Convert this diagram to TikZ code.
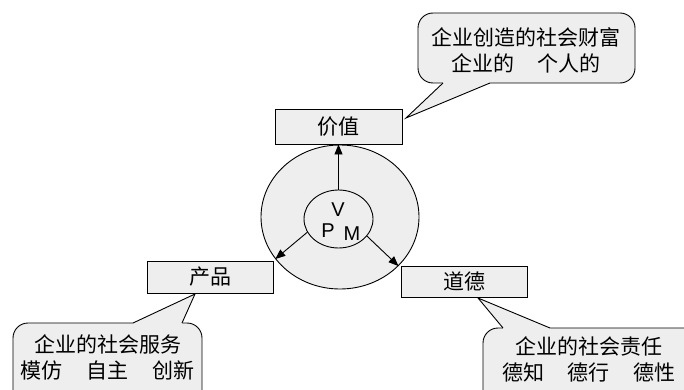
\documentclass[tikz,border=0pt]{standalone}
\usepackage{fontspec}
\setmainfont{Liberation Sans}
\newfontfamily\cjk{Noto Sans CJK SC}
\usetikzlibrary{shapes.geometric,arrows.meta}
\tikzset{
  lbl/.style={font=\cjk\fontsize{21}{26}\selectfont, inner sep=0pt, align=center},
  lat/.style={font=\fontsize{20}{22}\selectfont, inner sep=0pt},
  tagbox/.style={draw=black, fill=boxgray, line width=0.9pt, inner sep=0pt,
    font=\cjk\fontsize{21}{28}\selectfont},
  ring/.style={draw=black, fill=boxgray, line width=0.9pt, ellipse, inner sep=0pt},
  arr/.style={-{Triangle[length=10pt,width=8pt]}, line width=0.9pt},
  bubble/.style={draw=black, fill=boxgray, line width=0.9pt, rounded corners=15pt},
}
\definecolor{boxgray}{HTML}{EEEEEE}
\begin{document}
\begin{tikzpicture}[x=1pt,y=-1pt]
\useasboundingbox (0,0) rectangle (684,390);
\begin{scope}
\clip (0,0) rectangle (684,390);
% callout: top
\draw[bubble] (418,13) rectangle (635,83);
\coordinate (t1) at (443,83); \coordinate (t2) at (490,83); \coordinate (tt) at (406,118);
\fill[boxgray] (tt) -- (t1) -- ([yshift=2pt]t1) -- ([yshift=2pt]t2) -- (t2) -- cycle;
\draw[line width=0.9pt] (t1) -- (tt) -- (t2);
\node[lbl] (ctop) at (526,50) {企业创造的社会财富\\企业的\hspace{24pt}个人的};
% callout: bottom left
\draw[bubble] (13,323) rectangle (202,405);
\coordinate (l1) at (133,323); \coordinate (l2) at (182,323); \coordinate (lt) at (195,294);
\fill[boxgray] (lt) -- (l1) -- ([yshift=-2pt]l1) -- ([yshift=-2pt]l2) -- (l2) -- cycle;
\draw[line width=0.9pt] (l1) -- (lt) -- (l2);
\node[lbl] (cleft) at (107.5,357) {企业的社会服务\\模仿\hspace{24pt}自主\hspace{24pt}创新};
% callout: bottom right
\draw[bubble] (483,328) rectangle (705,405);
\coordinate (r1) at (503,328); \coordinate (r2) at (550,328); \coordinate (rt) at (478,298);
\fill[boxgray] (rt) -- (r1) -- ([yshift=-2pt]r1) -- ([yshift=-2pt]r2) -- (r2) -- cycle;
\draw[line width=0.9pt] (r1) -- (rt) -- (r2);
\node[lbl] (cright) at (589,359) {企业的社会责任\\德知\hspace{24pt}德行\hspace{24pt}德性};
\end{scope}
% circles
\node[ring, minimum width=158pt, minimum height=144pt] (outer) at (340,217) {};
\node[ring, minimum width=69pt, minimum height=58pt] (inner) at (338.5,219) {};
\node[lat] (v) at (338,210) {V};
\node[lat] (p) at (328,231) {P};
\node[lat] (m) at (352,234) {M};
% boxes
\node[tagbox, minimum width=127pt, minimum height=35pt] (val) at (338.5,126.5) {价值};
\node[tagbox, minimum width=126pt, minimum height=32pt] (prod) at (210,277) {产品};
\node[tagbox, minimum width=126pt, minimum height=31pt] (moral) at (464,281.5) {道德};
% arrows
\draw[arr] (inner.north) -- (val.south);
\draw[arr] (inner.203.5) -- (outer.213);
\draw[arr] (inner.-31) -- (outer.-40);
\end{tikzpicture}
\end{document}
